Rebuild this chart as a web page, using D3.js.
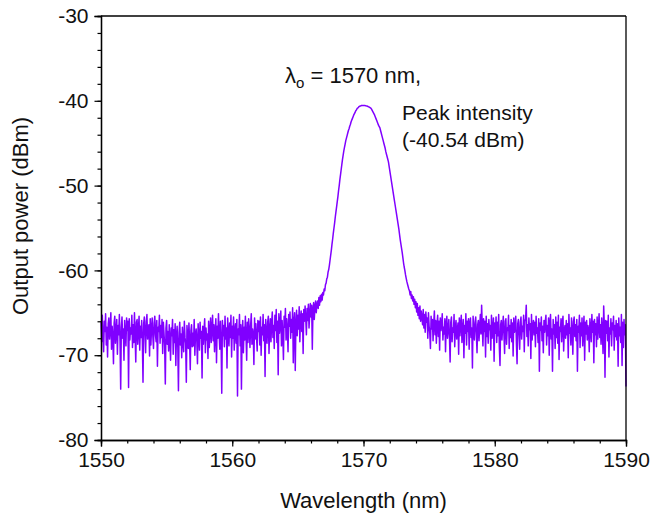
<!DOCTYPE html>
<html>
<head>
<meta charset="utf-8">
<script src="https://cdn.jsdelivr.net/npm/d3@7"></script>
<style>
  html, body { margin: 0; padding: 0; background: #fff; }
  svg { display: block; font-family: "Liberation Sans", Arial, sans-serif; }
</style>
</head>
<body>
<svg id="chart" width="654" height="518"></svg>
<script>
// ---- Data ----
const xDomain = [1550, 1590];
const yDomain = [-80, -30];
const xTicks = [1550, 1560, 1570, 1580, 1590];
const yTicks = [-80, -70, -60, -50, -40, -30];
const sampleStep = 0.05; // nm between OSA samples

// background noise, 1550.00 - 1566.45 nm
const leftStart = 1550.0;
const leftNoise = [
 -66.1,-68.4,-65.3,-67.9,-69.6,-66.0,-67.2,-65.1,-68.8,-66.7,
 -70.2,-66.3,-65.6,-68.1,-67.0,-65.0,-69.3,-66.6,-67.8,-71.0,
 -66.2,-65.4,-68.6,-67.3,-65.8,-69.9,-66.5,-67.6,-65.2,-68.3,
 -74.0,-66.7,-65.5,-68.0,-66.9,-70.6,-65.9,-67.4,-68.9,-65.6,
 -67.1,-66.0,-73.8,-65.7,-68.2,-66.8,-67.5,-65.3,-69.1,-66.4,
 -68.5,-65.0,-67.7,-70.8,-66.1,-65.8,-68.7,-67.0,-65.4,-69.4,
 -66.6,-67.9,-65.9,-68.3,-73.2,-66.3,-65.5,-67.3,-69.7,-66.0,
 -65.2,-68.1,-67.0,-66.4,-70.1,-65.7,-68.8,-66.9,-65.6,-67.8,
 -69.2,-66.2,-65.4,-67.6,-68.4,-65.9,-71.3,-66.7,-67.2,-65.3,
 -68.6,-66.5,-67.9,-65.8,-69.8,-66.1,-67.4,-68.9,-73.4,-66.8,
 -65.9,-68.7,-67.2,-69.5,-66.4,-68.1,-70.6,-66.8,-67.7,-65.8,
 -69.9,-67.0,-68.5,-66.3,-71.2,-67.6,-66.6,-69.0,-74.2,-67.3,
 -66.1,-68.8,-67.5,-70.3,-66.7,-68.2,-69.6,-66.0,-67.9,-68.6,
 -73.2,-66.5,-67.8,-69.2,-66.2,-68.4,-71.7,-67.1,-66.4,-69.0,
 -67.4,-68.9,-65.8,-70.0,-67.6,-66.9,-68.3,-71.0,-66.3,-67.7,
 -69.4,-66.1,-68.0,-67.2,-72.7,-66.6,-68.7,-67.0,-65.7,-69.7,
 -66.8,-68.2,-67.5,-70.4,-66.0,-69.1,-67.3,-65.6,-68.5,-67.0,
 -65.3,-68.3,-66.4,-69.6,-67.2,-65.7,-70.9,-66.6,-68.0,-65.1,
 -67.5,-69.3,-66.0,-68.4,-74.5,-65.9,-67.7,-66.5,-69.0,-65.4,
 -68.1,-66.8,-71.5,-65.6,-67.4,-68.9,-66.2,-67.9,-65.3,-70.2,
 -66.6,-68.0,-65.5,-69.4,-67.1,-66.3,-68.6,-65.8,-74.8,-66.9,
 -67.6,-65.2,-68.9,-66.4,-74.0,-67.3,-65.9,-69.7,-66.7,-68.2,
 -65.4,-67.8,-70.6,-66.1,-68.5,-65.7,-67.0,-69.1,-66.5,-65.1,
 -68.7,-66.9,-67.5,-71.1,-65.6,-68.1,-66.3,-67.9,-69.5,-65.9,
 -67.2,-66.0,-68.8,-65.5,-70.0,-66.7,-67.6,-65.2,-68.3,-66.4,
 -72.5,-65.8,-67.3,-68.6,-66.1,-65.4,-69.8,-67.0,-65.7,-68.4,
 -66.2,-64.9,-67.9,-66.5,-69.2,-65.3,-67.1,-64.6,-68.5,-66.0,
 -72.3,-65.1,-67.4,-66.3,-64.8,-68.9,-65.9,-67.6,-70.5,-65.4,
 -66.7,-64.5,-68.2,-65.7,-67.0,-69.6,-65.2,-66.6,-64.9,-68.0,
 -65.8,-67.3,-64.4,-70.9,-66.1,-65.0,-71.8,-66.4,-64.7,-67.7,
 -65.3,-66.9,-64.3,-68.4,-65.6,-64.8,-67.2,-65.1,-69.8,-64.6,
 -66.0,-64.2,-65.7,-67.6,-64.5,-65.9,-64.0,-66.8,-65.2,-63.9,
 -65.5,-64.1,-69.3,-64.6,-63.8,-65.8,-64.3,-63.6,-65.0,-64.0
];

// laser line, 1566.50 - 1574.00 nm
const peakStart = 1566.5;
const peakLine = [
 -63.6,-64.5,-63.2,-64.1,-63.0,-63.7,-62.8,-63.5,-62.6,-62.9,
 -62.2,-62.4,-61.7,-61.5,-61.0,-60.8,-60.2,-59.9,-59.4,-58.8,
 -58.2,-57.6,-56.9,-56.3,-55.6,-55.0,-54.4,-53.7,-53.1,-52.5,
 -51.9,-51.3,-50.6,-50.0,-49.3,-48.7,-48.1,-47.5,-46.9,-46.4,
 -45.9,-45.5,-45.1,-44.7,-44.4,-44.1,-43.8,-43.5,-43.3,-43.0,
 -42.8,-42.5,-42.3,-42.1,-41.9,-41.7,-41.55,-41.4,-41.2,-41.1,
 -40.95,-40.85,-40.8,-40.7,-40.65,-40.6,-40.6,-40.55,-40.55,
 -40.56,-40.55,-40.54,-40.56,-40.58,-40.6,-40.62,-40.65,-40.68,-40.72,-40.76,-40.8,-40.85,
 -40.95,-41.1,-41.25,-41.4,-41.55,-41.7,-41.9,-42.1,-42.3,-42.5,
 -42.7,-42.9,-43.05,-43.2,-43.5,-43.8,-44.1,-44.4,-44.7,-45.0,
 -45.3,-45.6,-46.0,-46.3,-46.6,-46.9,-47.2,-47.7,-48.2,-48.7,
 -49.2,-49.7,-50.2,-50.7,-51.2,-51.7,-52.2,-52.7,-53.2,-53.7,
 -54.2,-54.7,-55.2,-55.8,-56.4,-56.9,-57.4,-57.9,-58.5,-59.1,
 -59.6,-60.0,-60.5,-60.9,-61.3,-61.6,-61.9,-62.2,-62.4,-62.9,
 -62.5,-63.3,-62.9,-63.6,-63.1,-64.0,-63.4,-64.4,-63.7
];

// background noise, 1574.05 - 1590.00 nm
const rightStart = 1574.05;
const rightNoise = [
 -64.9,-63.9,-65.3,-64.4,-65.7,-64.2,-66.0,-64.8,-65.5,-66.4,
 -64.6,-66.8,-65.2,-67.3,-64.9,-66.1,-65.6,-68.0,-65.0,-66.6,
 -67.4,-69.2,-65.4,-66.9,-65.8,-68.3,-66.2,-64.8,-67.6,-65.9,
 -68.6,-66.4,-65.3,-67.8,-66.0,-69.4,-65.6,-67.1,-66.5,-65.1,
 -68.2,-66.7,-67.5,-65.7,-69.6,-66.3,-65.4,-68.0,-67.0,-65.8,
 -67.9,-70.8,-66.1,-65.5,-68.4,-66.8,-67.3,-65.2,-69.0,-66.6,
 -65.9,-68.1,-67.0,-66.2,-69.9,-65.6,-67.7,-66.4,-65.3,-68.5,
 -66.9,-65.8,-70.3,-66.5,-67.4,-65.1,-68.8,-66.0,-67.2,-65.7,
 -69.3,-66.3,-65.6,-67.9,-66.8,-71.5,-65.4,-67.0,-68.2,-66.1,
 -65.5,-67.6,-69.7,-66.4,-65.9,-68.3,-66.7,-65.2,-67.5,-64.1,
 -66.6,-68.9,-65.7,-67.2,-66.0,-70.2,-65.4,-67.8,-66.3,-68.6,
 -65.8,-67.0,-66.5,-69.4,-65.3,-68.0,-66.9,-65.6,-70.7,-66.2,
 -67.4,-65.5,-68.5,-66.1,-67.7,-65.2,-69.1,-71.2,-66.4,-65.9,
 -68.2,-66.7,-65.4,-67.6,-69.8,-66.0,-65.7,-68.7,-66.8,-67.1,
 -65.3,-69.2,-66.5,-67.9,-65.8,-68.4,-66.2,-70.1,-65.6,-67.3,
 -66.9,-65.4,-68.6,-71.0,-66.3,-65.8,-67.5,-69.3,-66.1,-65.5,
 -68.1,-66.6,-67.2,-65.3,-69.6,-66.0,-65.7,-64.1,-67.8,-66.4,
 -68.9,-65.6,-67.0,-66.3,-70.4,-65.2,-68.2,-66.7,-65.9,-67.6,
 -66.1,-69.0,-65.4,-67.4,-66.8,-68.5,-65.7,-71.9,-66.2,-67.1,
 -65.5,-68.3,-66.6,-69.7,-65.9,-67.3,-66.0,-65.3,-68.8,-66.5,
 -67.7,-65.6,-70.0,-66.3,-65.2,-68.1,-66.9,-71.9,-65.8,-67.5,
 -66.4,-69.2,-65.5,-67.9,-66.1,-68.6,-65.3,-70.5,-66.7,-67.2,
 -65.7,-68.4,-66.2,-65.4,-69.5,-67.0,-66.5,-68.0,-65.9,-67.6,
 -66.3,-70.3,-65.2,-67.4,-66.8,-68.8,-65.6,-67.1,-69.9,-66.0,
 -65.5,-67.8,-66.4,-68.3,-65.8,-71.9,-66.6,-67.3,-65.3,-69.1,
 -66.2,-67.7,-65.6,-68.9,-66.9,-65.4,-70.6,-66.1,-67.5,-65.9,
 -68.2,-66.5,-67.0,-69.6,-65.7,-66.8,-68.4,-65.2,-67.3,-66.0,
 -70.9,-65.8,-67.6,-66.3,-69.0,-65.5,-68.1,-66.7,-65.1,-67.9,
 -66.4,-68.7,-65.6,-67.2,-69.8,-64.2,-66.6,-72.6,-65.9,-67.4,
 -66.0,-68.3,-65.3,-70.2,-66.8,-67.5,-65.7,-68.9,-66.2,-67.0,
 -65.4,-69.4,-66.5,-67.8,-65.9,-68.2,-66.3,-71.3,-65.6,-67.7,
 -66.7,-68.5,-65.2,-71.2,-66.1,-69.1,-65.8,-67.6,-66.4,-73.7
];

const annotationLines = ["Peak intensity", "(-40.54 dBm)"];

// ---- Layout ----
const svg = d3.select("#chart");
const margin = { left: 101, right: 28, top: 16, bottom: 78 };
const W = 654, H = 518;
const x = d3.scaleLinear().domain(xDomain).range([margin.left, W - margin.right]);
const y = d3.scaleLinear().domain(yDomain).range([H - margin.bottom, margin.top]);

const toPoints = (start, arr) => arr.map((v, i) => ({ wl: start + i * sampleStep, p: v }));
const spectrum = [
  ...toPoints(leftStart, leftNoise),
  ...toPoints(peakStart, peakLine),
  ...toPoints(rightStart, rightNoise)
];

// spectrum line
svg.append("path")
  .datum(spectrum)
  .attr("fill", "none")
  .attr("stroke", "#8000ff")
  .attr("stroke-width", 1.5)
  .attr("stroke-linejoin", "round")
  .attr("d", d3.line().x(d => x(d.wl)).y(d => y(d.p)));

// frame
const frame = svg.append("g");
frame.append("line").attr("x1", x(xDomain[0])).attr("x2", x(xDomain[1]))
  .attr("y1", y(yDomain[1])).attr("y2", y(yDomain[1]))
  .attr("stroke", "#000").attr("stroke-width", 1.3);
frame.append("line").attr("x1", x(xDomain[1])).attr("x2", x(xDomain[1]))
  .attr("y1", y(yDomain[0])).attr("y2", y(yDomain[1]))
  .attr("stroke", "#000").attr("stroke-width", 1.3);

// x axis
const fmt = d => String(d); // plain hyphen-minus like the reference
const xMinor = d3.range(xDomain[0], xDomain[1] + 0.001, 2);
const xAxisMinor = d3.axisBottom(x).tickValues(xMinor).tickSize(3.5).tickFormat("");
const xAxis = d3.axisBottom(x).tickValues(xTicks).tickSize(6.5).tickPadding(6).tickFormat(fmt);
const gxm = svg.append("g").attr("transform", `translate(0,${y(yDomain[0])})`).call(xAxisMinor);
const gx = svg.append("g").attr("transform", `translate(0,${y(yDomain[0])})`).call(xAxis);

// y axis
const yMinor = d3.range(yDomain[0], yDomain[1] + 0.001, 2);
const yAxisMinor = d3.axisLeft(y).tickValues(yMinor).tickSize(3.5).tickFormat("");
const yAxis = d3.axisLeft(y).tickValues(yTicks).tickSize(6.5).tickPadding(6).tickFormat(fmt);
const gym = svg.append("g").attr("transform", `translate(${x(xDomain[0])},0)`).call(yAxisMinor);
const gy = svg.append("g").attr("transform", `translate(${x(xDomain[0])},0)`).call(yAxis);

[gx, gy, gxm, gym].forEach(g => {
  g.select(".domain").attr("stroke", "#000").attr("stroke-width", 1.3);
  g.selectAll(".tick line").attr("stroke", "#000").attr("stroke-width", 1.2);
  g.selectAll("text").attr("fill", "#111").style("font-size", "21px")
    .style("font-family", "'Liberation Sans', Arial, sans-serif");
});
gx.selectAll("text").attr("dy", "0.71em");

// axis titles
svg.append("text")
  .attr("x", x(1570)).attr("y", 508)
  .attr("text-anchor", "middle")
  .style("font-size", "22px").attr("fill", "#111")
  .text("Wavelength (nm)");

svg.append("text")
  .attr("transform", `translate(28,${216}) rotate(-90)`)
  .attr("text-anchor", "middle")
  .style("font-size", "22px").attr("fill", "#111")
  .text("Output power (dBm)");

// annotations
const lam = svg.append("text")
  .attr("x", 285).attr("y", 83)
  .style("font-size", "22px").attr("fill", "#111");
lam.append("tspan").text("λ");
lam.append("tspan").attr("dy", 5).style("font-size", "15px").text("o");
lam.append("tspan").attr("dy", -5).text(" = 1570 nm,");

svg.append("text")
  .attr("x", 402).attr("y", 120)
  .style("font-size", "21px").attr("fill", "#111")
  .selectAll("tspan").data(annotationLines).join("tspan")
  .attr("x", 402).attr("dy", (d, i) => i === 0 ? 0 : 27)
  .text(d => d);
</script>
</body>
</html>
